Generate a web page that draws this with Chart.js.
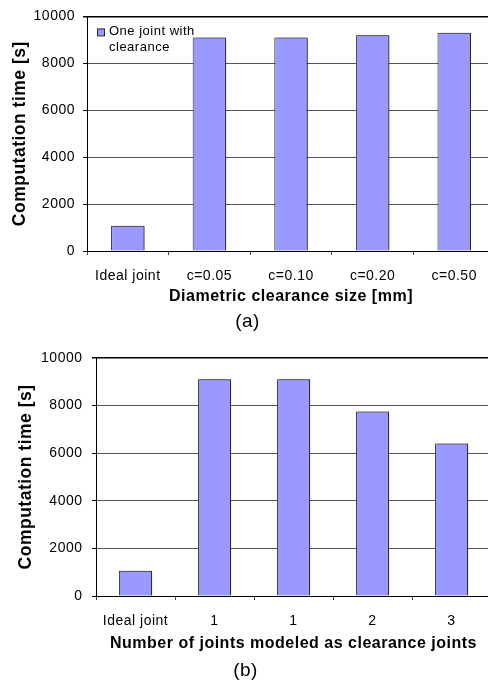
<!DOCTYPE html>
<html>
<head>
<meta charset="utf-8">
<script src="https://cdn.jsdelivr.net/npm/chart.js@4.4.1/dist/chart.umd.min.js"></script>
<style>
  html, body { margin: 0; padding: 0; background: #fff; width: 488px; height: 686px; overflow: hidden; }
  canvas { position: absolute; left: 0; }
</style>
</head>
<body>
<canvas id="chartA" width="495" height="340" style="top:0px"></canvas>
<canvas id="chartB" width="491" height="346" style="top:340px"></canvas>
<script>
// ---- data ----
const categoriesA = ['Ideal joint', 'c=0.05', 'c=0.10', 'c=0.20', 'c=0.50'];
const valuesA = [1080, 9100, 9100, 9200, 9300];
const categoriesB = ['Ideal joint', '1', '1', '2', '3'];
const valuesB = [1060, 9100, 9100, 7750, 6400];
const yTicks = [0, 2000, 4000, 6000, 8000, 10000];
const seriesLabel = 'One joint with clearance';
const legendLines = ['One joint with', 'clearance'];
const titleYA = 'Computation time [s]';
const titleXA = 'Diametric clearance size [mm]';
const titleXB = 'Number of joints modeled as clearance joints';
const captionA = '(a)';
const captionB = '(b)';

const FONT = '"Liberation Sans", Arial, Helvetica, sans-serif';
const BAR_FILL = '#9999ff';
const BAR_EDGE = '#2a2a2a';

const spacingPlugin = {
  id: 'spacing',
  beforeLayout(chart) { chart.ctx.letterSpacing = '0.5px'; },
  beforeDraw(chart) { chart.ctx.letterSpacing = '0.5px'; }
};

const shadowPlugin = {
  id: 'barShadow',
  beforeDatasetsDraw(chart) {
    const ctx = chart.ctx;
    ctx.save();
    ctx.shadowColor = 'rgba(0,0,0,0.45)';
    ctx.shadowOffsetX = 2;
    ctx.shadowOffsetY = 0;
    ctx.shadowBlur = 0;
  },
  afterDatasetsDraw(chart) { chart.ctx.restore(); }
};

const innerLegend = {
  id: 'innerLegend',
  afterDraw(chart, args, opts) {
    if (!opts.show) return;
    const ctx = chart.ctx;
    const { left, top } = chart.chartArea;
    ctx.save();
    ctx.fillStyle = BAR_FILL;
    ctx.strokeStyle = BAR_EDGE;
    ctx.lineWidth = 1;
    ctx.fillRect(left + 10.5, top + 12.5, 7, 7);
    ctx.strokeRect(left + 10.5, top + 12.5, 7, 7);
    ctx.fillStyle = '#000';
    ctx.font = '13px ' + FONT;
    ctx.textBaseline = 'middle';
    ctx.textAlign = 'left';
    legendLines.forEach((line, i) => {
      ctx.fillText(line, left + 22, top + 15 + i * 16.5);
    });
    ctx.restore();
  }
};

function makeChart(id, cats, vals, xTitle, caption, cfg) {
  return new Chart(document.getElementById(id), {
    type: 'bar',
    data: {
      labels: cats,
      datasets: [{
        label: seriesLabel,
        data: vals,
        backgroundColor: BAR_FILL,
        borderColor: BAR_EDGE,
        borderWidth: 1,
        categoryPercentage: 1.0,
        barPercentage: cfg.barPct
      }]
    },
    plugins: [spacingPlugin, shadowPlugin, innerLegend],
    options: {
      responsive: false,
      animation: false,
      devicePixelRatio: 1,
      layout: { padding: { top: cfg.padTop, left: 0, right: 0, bottom: 0 } },
      plugins: {
        legend: { display: false },
        tooltip: { enabled: false },
        innerLegend: { show: cfg.legend },
        title: {
          display: true,
          position: 'bottom',
          text: caption,
          color: '#000',
          font: { family: FONT, size: 19, weight: 'normal' },
          padding: { top: 0, bottom: cfg.capPad }
        }
      },
      scales: {
        x: {
          afterFit(scale) { scale.height = cfg.xHeight; },
          grid: {
            display: true,
            drawOnChartArea: false,
            drawTicks: true,
            tickLength: 4,
            offset: true,
            color: '#444'
          },
          border: { display: true, color: '#000', width: 1 },
          ticks: {
            color: '#000',
            padding: 12.6,
            maxRotation: 0,
            autoSkip: false,
            font: { family: FONT, size: 14 }
          },
          title: {
            display: true,
            text: xTitle,
            color: '#000',
            font: { family: FONT, size: 16, weight: 'bold' },
            padding: { top: 0, bottom: cfg.xTitlePad }
          }
        },
        y: {
          min: 0,
          max: 10000,
          afterFit(scale) { scale.width = cfg.yWidth; },
          afterBuildTicks(scale) { scale.ticks = yTicks.map(v => ({ value: v })); },
          grid: {
            color: (c) => (c.tick && c.tick.value === 10000) ? '#000' : '#555',
            lineWidth: (c) => (c.tick && c.tick.value === 10000) ? 1.5 : 1,
            tickColor: '#000',
            tickLength: 4,
            drawTicks: true
          },
          border: { display: true, color: '#000', width: 1 },
          ticks: {
            color: '#000',
            padding: cfg.yTickPad,
            font: { family: FONT, size: 14 },
            callback: (v) => String(v)
          },
          title: {
            display: true,
            text: titleYA,
            color: '#000',
            font: { family: FONT, size: 17.5, weight: 'bold' },
            padding: { top: cfg.yTitlePad, bottom: 0 }
          }
        }
      }
    }
  });
}

makeChart('chartA', categoriesA, valuesA, titleXA, captionA, {
  barPct: 0.41, padTop: 12.5, capPad: 6.6, xHeight: 59.6, xTitlePad: 4,
  yWidth: 87, yTickPad: 8, yTitlePad: 10, legend: true
});
makeChart('chartB', categoriesB, valuesB, titleXB, captionB, {
  barPct: 0.42, padTop: 16.3, capPad: 3.6, xHeight: 63.6, xTitlePad: 6,
  yWidth: 96, yTickPad: 9.5, yTitlePad: 16, legend: false
});
</script>
</body>
</html>
